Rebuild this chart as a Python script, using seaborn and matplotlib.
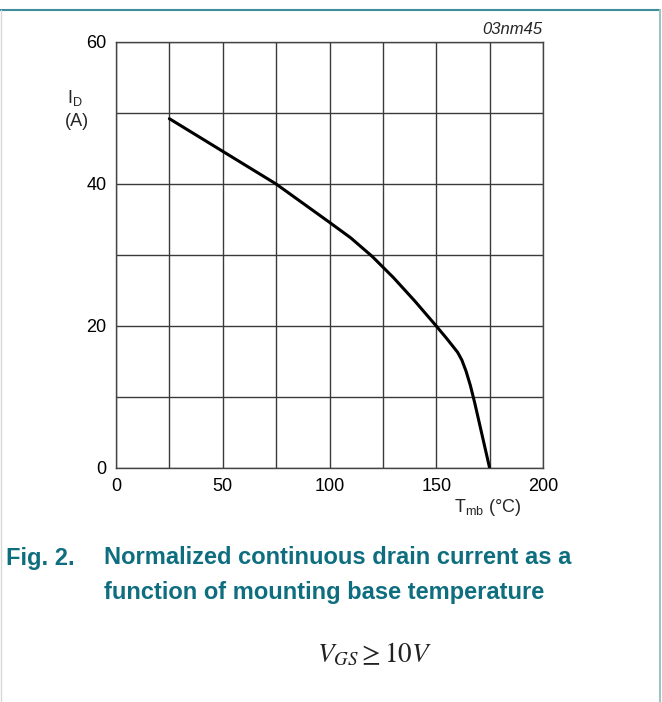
import numpy as np
import seaborn as sns
import pandas as pd
import matplotlib.pyplot as plt
from matplotlib.lines import Line2D

# derating curve
t_mb = [25, 50, 75, 100, 110, 120, 130, 140, 150, 155, 160, 162, 164, 166, 168, 175]
i_d = [49.2, 44.6, 40.0, 34.6, 32.4, 29.8, 26.8, 23.5, 20.0, 18.2, 16.3, 15.2, 13.6, 11.6, 9.2, 0.0]

x_ticks = [0, 50, 100, 150, 200]
y_ticks = [0, 20, 40, 60]

df = pd.DataFrame({'Tmb': t_mb, 'ID': i_d})

sns.set_style('white')
plt.rcParams['font.family'] = ['Liberation Sans', 'DejaVu Sans']
plt.rcParams['mathtext.fontset'] = 'stix'

W, H = 662, 702
fig = plt.figure(figsize=(W / 100, H / 100), dpi=100)
ax = fig.add_axes([116 / W, 1 - 468 / H, (543 - 116) / W, (468 - 42) / H])

sns.lineplot(data=df, x='Tmb', y='ID', ax=ax, color='black', lw=2.2)

ax.set_xlim(0, 200)
ax.set_ylim(0, 60)
ax.set_xticks(np.arange(0, 201, 25))
ax.set_yticks(np.arange(0, 61, 10))
ax.set_xticklabels([str(v) if v in x_ticks else '' for v in np.arange(0, 201, 25)])
ax.set_yticklabels([str(v) if v in y_ticks else '' for v in np.arange(0, 61, 10)])
ax.grid(True, color='#3a3a3a', lw=1.0)
ax.tick_params(length=0, labelsize=13, colors='black')
ax.tick_params(axis='x', pad=7.5)
ax.tick_params(axis='y', pad=7)
for s in ax.spines.values():
    s.set_color('#444444')
    s.set_linewidth(1.0)
ax.set_xlabel('')
ax.set_ylabel('')

fig.text(67 / W, 1 - 98 / H, r'$\mathregular{I_D}$', fontsize=13, ha='left', va='center')
fig.text(77 / W, 1 - 122 / H, '(A)', fontsize=13, ha='center', va='center')
fig.text(488 / W, 1 - 508 / H, r'$\mathregular{T_{mb}}$ (°C)', fontsize=13, ha='center', va='center')
fig.text(542 / W, 1 - 30 / H, '03nm45', fontsize=12, style='italic', ha='right', va='center')

teal = '#0e6e7f'
fig.text(6 / W, 1 - 558 / H, 'Fig. 2.', fontsize=17, fontweight='bold', color=teal, va='center')
fig.text(104 / W, 1 - 558 / H, 'Normalized continuous drain current as a', fontsize=17,
         fontweight='bold', color=teal, va='center')
fig.text(104 / W, 1 - 592 / H, 'function of mounting base temperature', fontsize=17,
         fontweight='bold', color=teal, va='center')
fig.text(375 / W, 1 - 655 / H, r'$V_{GS} \geq 10V$', fontsize=19.5, ha='center', va='center',
         color='#222222')

# frame around the figure block
fig.add_artist(Line2D([0, 660 / W], [1 - 9.5 / H] * 2, color='#3f8c9a', lw=1.5))
fig.add_artist(Line2D([1 / W] * 2, [0, 1 - 9.5 / H], color='#d8d8d8', lw=1.0))
fig.add_artist(Line2D([659.5 / W] * 2, [0, 1 - 9.5 / H], color='#9cc4c8', lw=1.5))

plt.savefig('out.png', dpi=100)
